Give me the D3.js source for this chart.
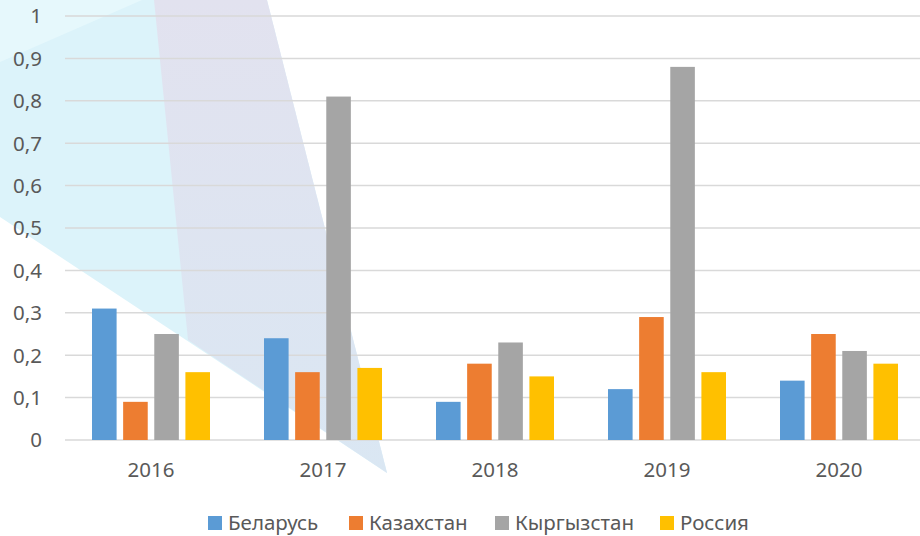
<!DOCTYPE html>
<html>
<head>
<meta charset="utf-8">
<script src="https://cdnjs.cloudflare.com/ajax/libs/d3/7.8.5/d3.min.js"></script>
<style>
    body { margin: 0; background: #fff; }
    svg { display: block; font-family: "Noto Sans", "Open Sans", sans-serif; }
</style>
</head>
<body>
<svg id="chart"></svg>
<script>

    var years = ["2016", "2017", "2018", "2019", "2020"];
    var countries = ["Беларусь", "Казахстан", "Кыргызстан", "Россия"];
    var belarus    = [0.31, 0.24, 0.09, 0.12, 0.14];
    var kazakhstan = [0.09, 0.16, 0.18, 0.29, 0.25];
    var kyrgyzstan = [0.25, 0.81, 0.23, 0.88, 0.21];
    var russia     = [0.16, 0.17, 0.15, 0.16, 0.18];
    var yTicks = [0, 0.1, 0.2, 0.3, 0.4, 0.5, 0.6, 0.7, 0.8, 0.9, 1];
    var colors = ["#5B9BD5", "#ED7D31", "#A5A5A5", "#FFC000"];

    var series = [belarus, kazakhstan, kyrgyzstan, russia];

    var width = 920,
        height = 536;

    var svg = d3.select("#chart")
        .attr("width", width)
        .attr("height", height);

    // decorative shapes in the background
    var bg = svg.append("g").attr("class", "bg");
    bg.append("polygon")
        .attr("points", "0,0 267,0 387,473 0,217")
        .attr("fill", "#DCF3FA");
    bg.append("polygon")
        .attr("points", "0,0 142,0 0,62")
        .attr("fill", "#E6F8FC");
    var grad = svg.append("defs").append("linearGradient")
        .attr("id", "lav")
        .attr("x1", 0).attr("y1", 0).attr("x2", 0).attr("y2", 1);
    grad.append("stop").attr("offset", "0%").attr("stop-color", "#E2E2EF");
    grad.append("stop").attr("offset", "100%").attr("stop-color", "#DAE7F3");
    bg.append("polygon")
        .attr("points", "154,0 267,0 387,473 188,340")
        .attr("fill", "url(#lav)");

    var x0 = d3.scaleBand()
        .domain(years)
        .range([65, 925])
        .paddingInner(0.314)
        .paddingOuter(0.157);

    var x1 = d3.scaleBand()
        .domain(countries)
        .range([0, x0.bandwidth()])
        .paddingInner(0.21);

    var y = d3.scaleLinear()
        .domain([0, 1])
        .range([440, 16]);

    var fmt = function(d) { return d3.format("~g")(d).replace(".", ","); };

    // gridlines
    svg.append("g")
        .selectAll("line")
        .data(yTicks)
        .enter().append("line")
        .attr("x1", 65)
        .attr("x2", width)
        .attr("y1", function(d) { return y(d); })
        .attr("y2", function(d) { return y(d); })
        .attr("stroke", "#D9D9D9")
        .attr("stroke-width", 1.5);

    // y axis labels
    svg.append("g")
        .selectAll("text")
        .data(yTicks)
        .enter().append("text")
        .attr("x", 42)
        .attr("y", function(d) { return y(d); })
        .attr("dy", "0.36em")
        .attr("text-anchor", "end")
        .attr("font-size", 20.5)
        .attr("fill", "#595959")
        .text(fmt);

    // bars
    var groups = svg.append("g")
        .selectAll("g")
        .data(years)
        .enter().append("g")
        .attr("transform", function(d) { return "translate(" + x0(d) + ",0)"; });

    groups.selectAll("rect")
        .data(function(d, i) {
            return countries.map(function(c, j) { return {c: c, j: j, v: series[j][i]}; });
        })
        .enter().append("rect")
        .attr("x", function(d) { return x1(d.c); })
        .attr("width", x1.bandwidth())
        .attr("y", function(d) { return y(d.v); })
        .attr("height", function(d) { return y(0) - y(d.v); })
        .attr("fill", function(d) { return colors[d.j]; });

    // x labels
    svg.append("g")
        .selectAll("text")
        .data(years)
        .enter().append("text")
        .attr("x", function(d) { return x0(d) + x0.bandwidth() / 2; })
        .attr("y", 477)
        .attr("text-anchor", "middle")
        .attr("font-size", 20.5)
        .attr("fill", "#595959")
        .text(function(d) { return d; });

    // legend
    var legendX = [208, 349, 495, 660];
    var legend = svg.append("g")
        .selectAll("g")
        .data(countries)
        .enter().append("g")
        .attr("transform", function(d, i) { return "translate(" + legendX[i] + ",516)"; });

    legend.append("rect")
        .attr("width", 14)
        .attr("height", 14)
        .attr("fill", function(d, i) { return colors[i]; });

    legend.append("text")
        .attr("x", 20)
        .attr("y", 14)
        .attr("font-size", 20.5)
        .attr("fill", "#595959")
        .text(function(d) { return d; });

</script>
</body>
</html>
